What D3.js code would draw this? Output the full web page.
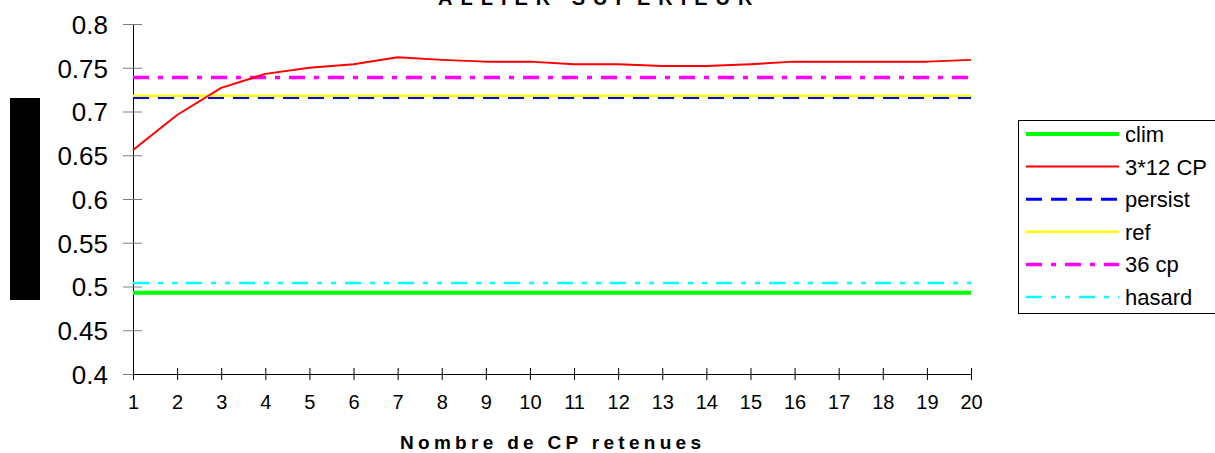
<!DOCTYPE html>
<html>
<head>
    <meta charset="utf-8">
    <script src="https://cdnjs.cloudflare.com/ajax/libs/d3/7.8.5/d3.min.js"></script>
    <style>
        body { margin: 0; background: #fff; font-family: 'Liberation Sans', Arial, sans-serif; }
        svg { display: block; }
    </style>
</head>
<body>
<div id="chart"></div>
<script>
// data
var nbCP = d3.range(1, 21);
var cp3x12 = [0.656, 0.696, 0.727, 0.743, 0.750, 0.754, 0.762, 0.759, 0.757, 0.757,
              0.754, 0.754, 0.752, 0.752, 0.754, 0.757, 0.757, 0.757, 0.757, 0.759];
var clim = 0.493;
var persist = 0.716;
var ref = 0.718;
var cp36 = 0.739;
var hasard = 0.504;
var yTicks = [0.4, 0.45, 0.5, 0.55, 0.6, 0.65, 0.7, 0.75, 0.8];

var series = [
    {name: "clim",    values: nbCP.map(function () { return clim; }),    color: "#00ff00", width: 4,   dash: null},
    {name: "3*12 CP", values: cp3x12,                                    color: "#ff0000", width: 2,   dash: null},
    {name: "persist", values: nbCP.map(function () { return persist; }), color: "#0000ff", width: 3,   dash: "16,9"},
    {name: "ref",     values: nbCP.map(function () { return ref; }),     color: "#ffff00", width: 2.5, dash: null},
    {name: "36 cp",   values: nbCP.map(function () { return cp36; }),    color: "#ff00ff", width: 3.5, dash: "16,9,5,9"},
    {name: "hasard",  values: nbCP.map(function () { return hasard; }),  color: "#00ffff", width: 2.5, dash: "16,9,5,9,5,9"}
];
// drawing order: hasard, clim underneath, then the rest
var drawOrder = ["hasard", "clim", "persist", "ref", "36 cp", "3*12 CP"];

var W = 1215, H = 453;
var svg = d3.select("#chart").append("svg").attr("width", W).attr("height", H);

var x = d3.scaleLinear().domain([1, 20]).range([133, 971]);
var y = d3.scaleLinear().domain([0.4, 0.8]).range([374, 24]);

// title (cut at the top)
svg.append("text")
    .attr("x", 438).attr("y", 5)
    .style("font-weight", "bold").style("font-size", "20px")
    .style("letter-spacing", "8px")
    .text("ALLIER SUPERIEUR");

// hidden y label block
svg.append("rect").attr("x", 10).attr("y", 98).attr("width", 30).attr("height", 202).attr("fill", "#000");

// y axis
var yAxis = svg.append("g").attr("transform", "translate(" + x(1) + ",0)")
    .call(d3.axisLeft(y).tickValues(yTicks).tickSize(10).tickFormat(d3.format("")).tickPadding(15));
yAxis.select(".domain").attr("stroke", "#000");
yAxis.selectAll(".tick line").attr("stroke", "#808080").attr("x2", 9).attr("x1", -10);
yAxis.selectAll(".tick text").style("font-size", "26px").style("font-family", "'Liberation Sans', Arial, sans-serif")
    .attr("fill", "#000").attr("x", -25).attr("dy", "0.36em");

// x axis
var xAxis = svg.append("g").attr("transform", "translate(0," + y(0.4) + ")")
    .call(d3.axisBottom(x).tickValues(nbCP).tickSize(6).tickFormat(d3.format("d")).tickSizeOuter(0));
xAxis.select(".domain").attr("stroke", "#000");
xAxis.selectAll(".tick line").attr("stroke", "#000").attr("y1", -6).attr("y2", 6);
xAxis.selectAll(".tick text").style("font-size", "20px").style("font-family", "'Liberation Sans', Arial, sans-serif")
    .attr("fill", "#000").attr("y", 21).attr("dy", "0.71em");

// x title
svg.append("text")
    .attr("x", 400).attr("y", 449)
    .style("font-weight", "bold").style("font-size", "19px")
    .style("letter-spacing", "4.3px")
    .text("Nombre de CP retenues");

// lines
var line = d3.line().x(function (d, i) { return x(nbCP[i]); }).y(function (d) { return y(d); });
drawOrder.forEach(function (n) {
    var s = series.find(function (e) { return e.name === n; });
    svg.append("path")
        .datum(s.values)
        .attr("d", line)
        .attr("fill", "none")
        .attr("stroke", s.color)
        .attr("stroke-width", s.width)
        .attr("stroke-dasharray", s.dash)
        .attr("stroke-linejoin", "round");
});

// legend
var lg = svg.append("g");
lg.append("rect").attr("x", 1018.5).attr("y", 120.5).attr("width", 210).attr("height", 193)
    .attr("fill", "#fff").attr("stroke", "#000").attr("stroke-width", 1);
var rowY = d3.scaleLinear().domain([0, 5]).range([134, 297]);
series.forEach(function (s, i) {
    lg.append("line")
        .attr("x1", 1026).attr("x2", 1119)
        .attr("y1", rowY(i)).attr("y2", rowY(i))
        .attr("stroke", s.color).attr("stroke-width", s.width)
        .attr("stroke-dasharray", s.dash);
    lg.append("text")
        .attr("x", 1125).attr("y", rowY(i) + 8)
        .style("font-size", "22px")
        .text(s.name);
});
</script>
</body>
</html>
